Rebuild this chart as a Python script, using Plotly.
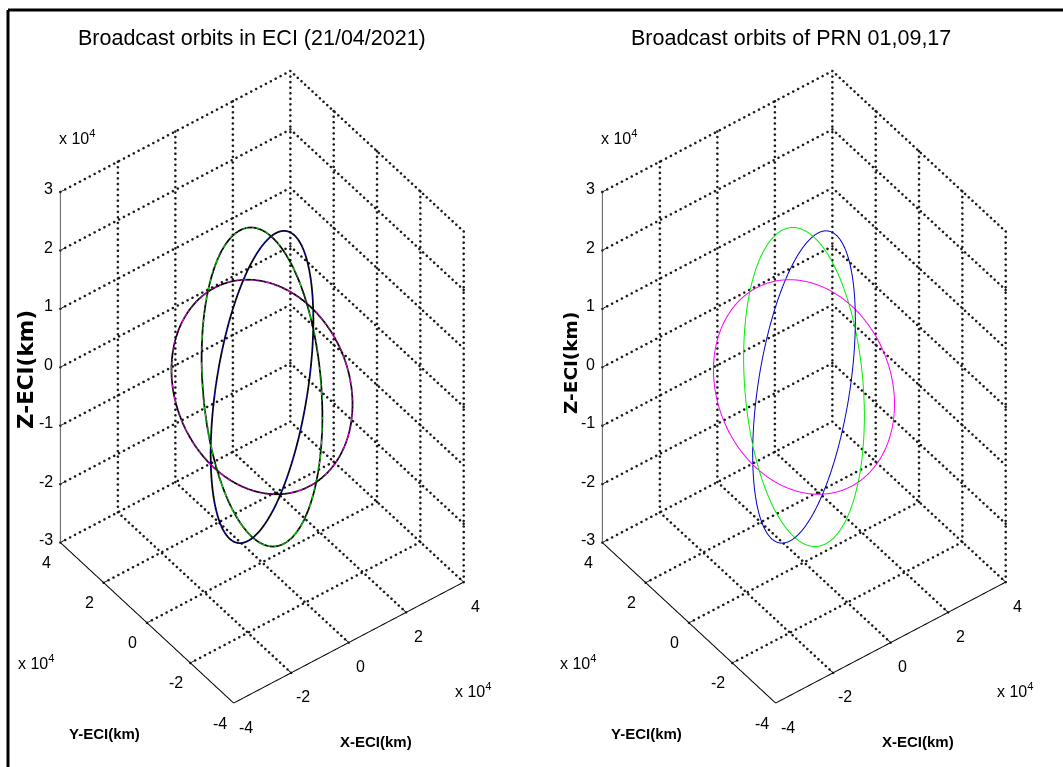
import numpy as np
import plotly.graph_objects as go

# ---------------- data ----------------
x_ticks = [-40000, -20000, 0, 20000, 40000]
y_ticks = [-40000, -20000, 0, 20000, 40000]
z_ticks = [-30000, -20000, -10000, 0, 10000, 20000, 30000]
x_tick_text = ["-4", "-2", "0", "2", "4"]
y_tick_text = ["-4", "-2", "0", "2", "4"]
z_tick_text = ["-3", "-2", "-1", "0", "1", "2", "3"]

# orbital planes (estimated from the ellipses in the picture)
orbit_names = ["PRN 17", "PRN 01", "PRN 09"]
orbit_colors = ["#ff00ff", "#00ee00", "#0000cc"]
orbit_radius_km = [25400, 25400, 25550]
orbit_incl_deg = [64.5, 66.5, 63.5]
orbit_raan_deg = [134.0, 18.0, 255.0]

titles = ["Broadcast orbits in ECI (21/04/2021)", "Broadcast orbits of PRN 01,09,17"]

FONT = "Liberation Sans, Arial, sans-serif"
W, H = 1063, 767


def orbit_xyz(r, inc, raan):
    i = np.radians(inc)
    o = np.radians(raan)
    u = np.radians(np.arange(0, 361, 2))
    P = np.array([np.cos(o), np.sin(o), 0.0])
    Q = np.array([-np.cos(i) * np.sin(o), np.cos(i) * np.cos(o), np.sin(i)])
    pts = r * (np.outer(np.cos(u), P) + np.outer(np.sin(u), Q))
    return pts[:, 0], pts[:, 1], pts[:, 2]


def seg_trace(segs, scene, color, width):
    xs, ys, zs = [], [], []
    for a, b in segs:
        xs += [a[0], b[0], None]
        ys += [a[1], b[1], None]
        zs += [a[2], b[2], None]
    return go.Scatter3d(x=xs, y=ys, z=zs, mode="lines", scene=scene,
                        line=dict(color=color, width=width),
                        hoverinfo="skip", showlegend=False, connectgaps=False)


def dotted_trace(segs, scene):
    # dotted grid lines drawn as small dots along each grid segment
    xs, ys, zs = [], [], []
    for a, b in segs:
        a = np.array(a, float)
        b = np.array(b, float)
        d = b - a
        step = 950.0 if abs(d[2]) > 0 else 1700.0
        n = int(np.linalg.norm(d) // step) + 1
        t = np.linspace(0, 1, n)
        p = a[None, :] + t[:, None] * d[None, :]
        xs += list(p[:, 0]); ys += list(p[:, 1]); zs += list(p[:, 2])
    return go.Scatter3d(x=xs, y=ys, z=zs, mode="markers", scene=scene,
                        marker=dict(color="#1a1a1a", size=1.5, line=dict(width=0)),
                        hoverinfo="skip", showlegend=False)


fig = go.Figure()
xmin, xmax = x_ticks[0], x_ticks[-1]
ymin, ymax = y_ticks[0], y_ticks[-1]
zmin, zmax = z_ticks[0], z_ticks[-1]

for k, scene in enumerate(["scene", "scene2"]):
    grid = []
    for xv in x_ticks[1:]:
        grid.append(((xv, ymin, zmin), (xv, ymax, zmin)))
        grid.append(((xv, ymax, zmin), (xv, ymax, zmax)))
    for yv in y_ticks[1:]:
        grid.append(((xmin, yv, zmin), (xmax, yv, zmin)))
        grid.append(((xmax, yv, zmin), (xmax, yv, zmax)))
    for zv in z_ticks[1:]:
        grid.append(((xmin, ymax, zv), (xmax, ymax, zv)))
    for zv in z_ticks:
        grid.append(((xmax, ymin, zv), (xmax, ymax, zv)))
    grid.append(((xmax, ymin, zmin), (xmax, ymin, zmax)))
    fig.add_trace(dotted_trace(grid, scene))

    fig.add_trace(seg_trace([((xmin, ymax, zmin), (xmin, ymax, zmax))], scene, "#444444", 1.6))
    axes = [((xmin, ymin, zmin), (xmin, ymax, zmin)),
            ((xmin, ymin, zmin), (xmax, ymin, zmin))]
    fig.add_trace(seg_trace(axes, scene, "#000000", 2))

    ticks = []
    for xv in x_ticks:
        ticks.append(((xv, ymin, zmin), (xv, ymin + 1800, zmin)))
    for yv in y_ticks:
        ticks.append(((xmin, yv, zmin), (xmin + 1800, yv, zmin)))
    for zv in z_ticks:
        ticks.append(((xmin, ymax, zv), (xmin + 1800, ymax, zv)))
    fig.add_trace(seg_trace(ticks, scene, "#000000", 1.5))

    for name, col, r, inc, raan in zip(orbit_names, orbit_colors, orbit_radius_km,
                                       orbit_incl_deg, orbit_raan_deg):
        ox, oy, oz = orbit_xyz(r, inc, raan)
        fig.add_trace(go.Scatter3d(x=ox, y=oy, z=oz, mode="lines", scene=scene, name=name,
                                   line=dict(color=col, width=2), hoverinfo="skip",
                                   showlegend=False))
    if k == 0:
        for name, r, inc, raan in zip(orbit_names, orbit_radius_km, orbit_incl_deg, orbit_raan_deg):
            ox, oy, oz = orbit_xyz(r, inc, raan)
            fig.add_trace(go.Scatter3d(x=ox, y=oy, z=oz, mode="lines", scene=scene, name=name,
                                       line=dict(color="#000000", width=3.5), hoverinfo="skip",
                                       showlegend=False))


def scene_layout(dom_x, dom_y):
    ann = []
    tf = dict(family=FONT, size=16, color="#000")
    for v, t in zip(x_ticks, x_tick_text):
        ann.append(dict(x=v, y=ymin, z=zmin, text=t, showarrow=False, xanchor="center",
                        yanchor="middle", xshift=12, yshift=-24, font=tf))
    for v, t in zip(y_ticks, y_tick_text):
        ann.append(dict(x=xmin, y=v, z=zmin, text=t, showarrow=False, xanchor="center",
                        yanchor="middle", xshift=-14, yshift=-20, font=tf))
    for v, t in zip(z_ticks, z_tick_text):
        ann.append(dict(x=xmin, y=ymax, z=v, text=t, showarrow=False, xanchor="right",
                        yanchor="middle", xshift=-5, yshift=3, font=tf))
    hidden = dict(visible=False, autorange=False)
    return dict(
        domain=dict(x=dom_x, y=dom_y),
        xaxis=dict(hidden, range=[xmin, xmax]),
        yaxis=dict(hidden, range=[ymin, ymax]),
        zaxis=dict(hidden, range=[zmin, zmax]),
        aspectmode="manual",
        aspectratio=dict(x=0.8, y=0.8, z=1.36),
        camera=dict(eye=dict(x=-1.0775, y=-1.43, z=1.745), up=dict(x=0, y=0, z=1),
                    center=dict(x=0, y=0, z=0), projection=dict(type="orthographic")),
        bgcolor="white",
        annotations=ann,
    )


def px(x, y):
    return x / W, 1 - y / H


def pap(xp, yp, text, font, **kw):
    x, y = px(xp, yp)
    d = dict(x=x, y=y, xref="paper", yref="paper", text=text, showarrow=False,
             xanchor="center", yanchor="middle", font=font)
    d.update(kw)
    return d


annotations = []
for cx, title in zip([252, 791], titles):
    annotations.append(pap(cx, 38, title, dict(family=FONT, size=21.5, color="#000")))

off = [0, 542]
lab_font = dict(family=FONT, size=15, color="#000")
for k in range(2):
    o = off[k]
    annotations.append(pap(104 + o, 733, "<b>Y-ECI(km)</b>", lab_font))
    annotations.append(pap(376 + o, 741, "<b>X-ECI(km)</b>", lab_font))
    annotations.append(pap(25 if k == 0 else 570, 370 if k == 0 else 363, "<b>Z-ECI(km)</b>",
                           dict(family="DejaVu Sans, sans-serif", size=21.5 if k == 0 else 18.5,
                                color="#000"), textangle=-90))
    for (ex, ey) in [(77 + o, 137), (36 + o, 662), (473 + o, 690)]:
        annotations.append(pap(ex, ey, "x 10<sup>4</sup>", dict(family=FONT, size=16, color="#000")))

fig.update_layout(
    width=W, height=H,
    margin=dict(l=0, r=0, t=0, b=0),
    paper_bgcolor="white",
    plot_bgcolor="white",
    showlegend=False,
    scene=scene_layout([12 / W, 512 / W], [1 - 747 / H, 1 - 27 / H]),
    scene2=scene_layout([554 / W, 1054 / W], [1 - 747 / H, 1 - 27 / H]),
    annotations=annotations,
    shapes=[
        dict(type="line", xref="paper", yref="paper", x0=8 / W, x1=1, y0=1 - 10 / H, y1=1 - 10 / H,
             line=dict(color="#000", width=3)),
        dict(type="line", xref="paper", yref="paper", x0=8 / W, x1=8 / W, y0=0, y1=1 - 10 / H,
             line=dict(color="#000", width=3)),
    ],
)

fig.write_html("out.html", config=dict(displayModeBar=False),
               post_script="document.body.style.margin='0px';document.body.style.overflow='hidden';")
